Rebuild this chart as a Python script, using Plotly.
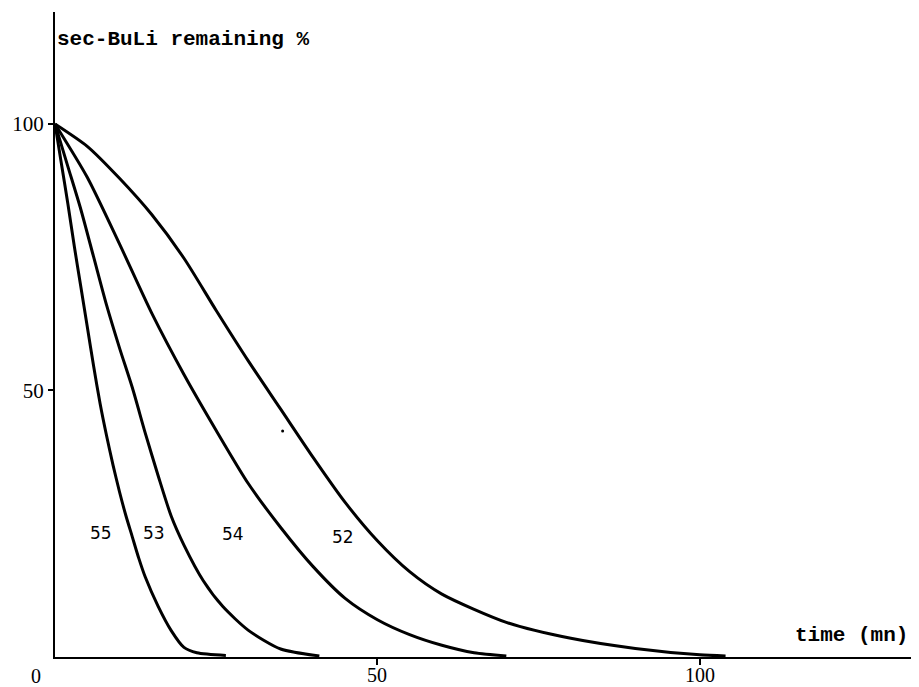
import plotly.graph_objects as go

# time (mn) and sec-BuLi remaining (%)
t52 = [0, 5, 10, 15, 20, 25, 30, 35, 40, 45, 50, 55, 60, 70, 80, 90, 100, 104]
y52 = [100, 95.8, 89.8, 83, 74.8, 65, 55.5, 46.5, 37.5, 29, 21.8, 16, 11.8, 6.5, 3.5, 1.6, 0.4, 0.2]

t54 = [0, 5, 10, 15, 20, 25, 30, 35, 40, 45, 50, 55, 60, 65, 70]
y54 = [100, 90, 77.5, 64.5, 53, 42.5, 32.5, 24.3, 17, 11, 7, 4.2, 2.2, 0.8, 0.2]

t53 = [0, 2, 4, 6, 8, 10, 12, 14, 16, 18, 20, 23, 26, 30, 35, 41]
y53 = [100, 92, 84, 75, 66, 58, 50.5, 42, 34, 26.5, 21, 14.3, 9.5, 5, 1.5, 0.2]

t55 = [0, 1, 2, 3, 4, 5, 6, 7, 8, 9, 10, 11, 12, 13, 14, 16, 18, 20, 22, 26.5]
y55 = [100, 92.5, 85, 77, 69.5, 62, 54.5, 47.5, 41.5, 36, 31, 26.5, 22.5, 18.5, 15, 9.5, 5, 1.8, 0.8, 0.3]

curve_labels = ["55", "53", "54", "52"]
label_t = [7.2, 15.4, 27.6, 44.7]
label_y = [23.2, 23.2, 23.0, 22.6]

x_ticks = [50, 100]
y_ticks = [50, 100]

fig = go.Figure()
for t, y in [(t52, y52), (t54, y54), (t53, y53), (t55, y55)]:
    fig.add_trace(go.Scatter(x=t, y=y, mode="lines",
                             line=dict(color="black", width=3, shape="spline", smoothing=0.7),
                             showlegend=False, hoverinfo="skip"))

# stray speck on the original
fig.add_trace(go.Scatter(x=[35.3], y=[42.4], mode="markers",
                         marker=dict(color="black", size=3), showlegend=False))

for lab, lx, ly in zip(curve_labels, label_t, label_y):
    fig.add_annotation(x=lx, y=ly, text=lab, showarrow=False,
                       font=dict(family="DejaVu Sans", size=17, color="black"))

fig.add_annotation(x=0, y=115.8, xanchor="left", yanchor="middle",
                   text="<b>sec-BuLi remaining %</b>", showarrow=False,
                   font=dict(family="Liberation Mono", size=21, color="black"))
fig.add_annotation(x=132.6, y=4, xanchor="right", yanchor="middle",
                   text="<b>time (mn)</b>", showarrow=False,
                   font=dict(family="Liberation Mono", size=21, color="black"))

# x tick labels and the corner "0"
for v in x_ticks:
    fig.add_annotation(x=v, xref="x", y=0, yref="paper", yshift=-18, yanchor="middle",
                       text=str(v), showarrow=False,
                       font=dict(family="Liberation Serif", size=20, color="black"))
fig.add_annotation(x=-0.030, xref="paper", y=-0.03, yref="paper", yanchor="middle",
                   text="0", showarrow=False,
                   font=dict(family="Liberation Serif", size=20, color="black"))

fig.update_xaxes(range=[0, 134], tickvals=x_ticks, showticklabels=False, automargin=False,
                 showgrid=False, zeroline=False, showline=True, linecolor="black",
                 linewidth=2, ticks="outside", ticklen=6, tickwidth=2, tickcolor="black")
fig.update_yaxes(range=[0, 121], tickvals=y_ticks, ticktext=[str(v) for v in y_ticks],
                 automargin=False,
                 showgrid=False, zeroline=False, showline=True, linecolor="black",
                 linewidth=2, ticks="outside", ticklen=5, tickwidth=2, tickcolor="black",
                 tickfont=dict(family="Liberation Serif", size=21, color="black"))

# page body has an 8px margin, so the figure is sized to fit the window
fig.update_layout(width=911, height=679, margin=dict(l=47, r=0, t=4, b=30),
                  plot_bgcolor="white", paper_bgcolor="white")

fig.write_html("out.html")
